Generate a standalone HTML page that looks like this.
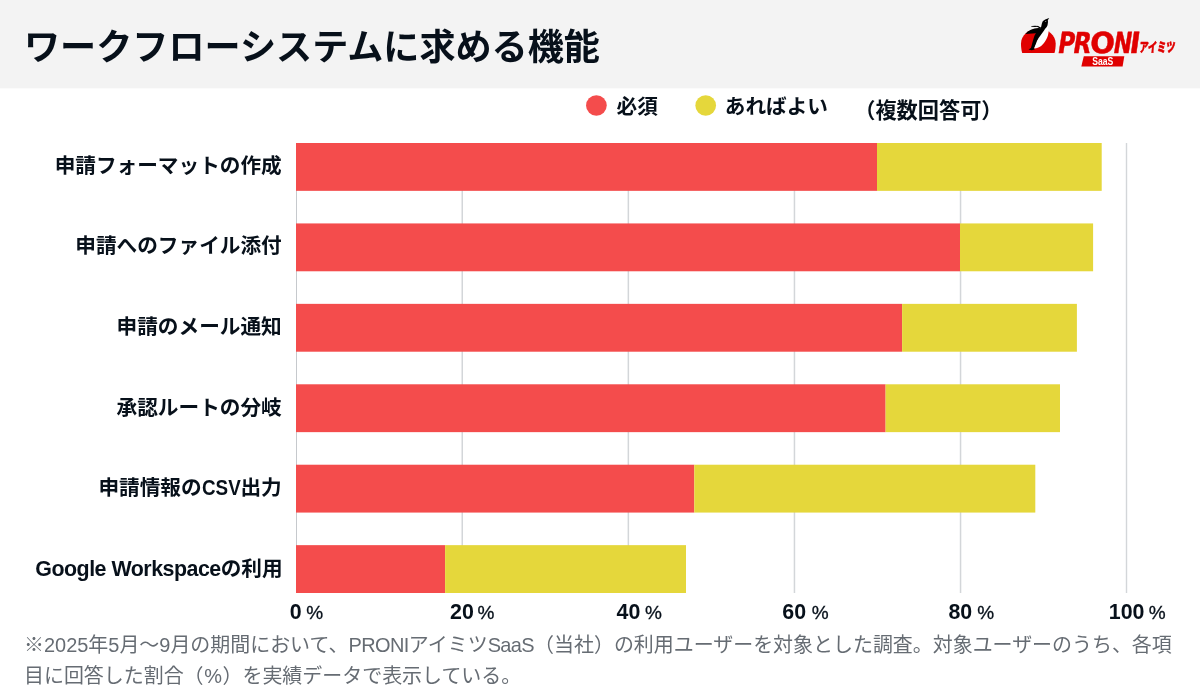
<!DOCTYPE html>
<html lang="ja">
<head>
<meta charset="utf-8">
<title>ワークフローシステムに求める機能</title>
<style>
html,body{margin:0;padding:0;}
body{width:1200px;height:700px;position:relative;overflow:hidden;background:#fff;
  font-family:"Liberation Sans","Noto Sans CJK JP",sans-serif;color:#07101a;}
.abs{position:absolute;white-space:nowrap;}
#header{position:absolute;left:0;top:0;width:1200px;height:88px;background:#f3f3f3;border-bottom:1px solid #fbfbfb;}
#title{left:24px;top:22.4px;font-size:36.12px;font-weight:700;line-height:52px;}
#shapes{position:absolute;left:0;top:0;width:1200px;height:700px;}
.lab{position:absolute;right:918.3px;font-size:20.65px;font-weight:700;line-height:30px;white-space:nowrap;text-align:right;}
.lab .en{font-size:21.4px;letter-spacing:-0.5px;}
.lab .csv{display:inline-block;font-size:21.4px;transform:scaleX(0.88);transform-origin:0 50%;margin-right:-5.2px;}
.leg{position:absolute;font-size:20.65px;font-weight:700;line-height:30px;white-space:nowrap;}
.ax{position:absolute;top:596.5px;font-size:21.4px;font-weight:700;line-height:30px;white-space:nowrap;}
.ax i{font-style:normal;font-size:19px;font-weight:400;margin-left:4px;-webkit-text-stroke:0.3px #07101a;}
#foot{position:absolute;left:24px;top:630.1px;width:1165px;font-size:19.97px;line-height:30.9px;color:#666c73;}
#foot .p{letter-spacing:-0.55px;}
#foot .s{letter-spacing:-0.6px;}
</style>
</head>
<body>
<div id="header"></div>
<div id="title" class="abs">ワークフローシステムに求める機能</div>

<svg id="shapes" width="1200" height="700" viewBox="0 0 1200 700">
  <!-- grid -->
  <g fill="#d3d6d9">
    <rect x="296" y="143" width="1" height="450" fill="#c6c9cd"/>
    <rect x="461.5" y="143" width="1.5" height="450"/>
    <rect x="627.6" y="143" width="1.5" height="450"/>
    <rect x="793.7" y="143" width="1.5" height="450"/>
    <rect x="959.8" y="143" width="1.5" height="450"/>
    <rect x="1125.8" y="143" width="1.4" height="450"/>
  </g>
  <!-- bars -->
  <rect x="296" y="143.00" width="581.0" height="47.85" fill="#f44c4c"/><rect x="877.0" y="143.00" width="224.7" height="47.85" fill="#e5d73b"/>
  <rect x="296" y="223.43" width="664.0" height="47.85" fill="#f44c4c"/><rect x="960.0" y="223.43" width="133.1" height="47.85" fill="#e5d73b"/>
  <rect x="296" y="303.86" width="606.1" height="47.85" fill="#f44c4c"/><rect x="902.1" y="303.86" width="174.8" height="47.85" fill="#e5d73b"/>
  <rect x="296" y="384.29" width="589.6" height="47.85" fill="#f44c4c"/><rect x="885.6" y="384.29" width="174.4" height="47.85" fill="#e5d73b"/>
  <rect x="296" y="464.72" width="398.3" height="47.85" fill="#f44c4c"/><rect x="694.3" y="464.72" width="341.0" height="47.85" fill="#e5d73b"/>
  <rect x="296" y="545.15" width="149.1" height="47.85" fill="#f44c4c"/><rect x="445.1" y="545.15" width="240.9" height="47.85" fill="#e5d73b"/>
  <!-- legend dots -->
  <circle cx="596.4" cy="105.5" r="10.35" fill="#f44c4c"/>
  <circle cx="705.7" cy="105.5" r="10.35" fill="#e5d73b"/>
</svg>


<!-- logo -->
<svg id="logo" width="1200" height="88" viewBox="0 0 1200 88" style="position:absolute;left:0;top:0;">
  <!-- penguin mark: drawn in 16.667x coords -->
  <g transform="translate(1018,14) scale(0.06)">
    <path d="M70 648 C55 600 50 545 50 492 C50 354 179 244 339 244 C499 244 628 354 628 492 C628 545 623 600 608 648 Z" fill="#e00000"/>
    <path d="M490 185 C504 230 513 270 509 305 C501 385 456 475 386 535 C342 568 296 580 262 575 C285 510 320 420 360 350 C390 300 420 260 445 235 C465 215 480 200 490 185 Z" fill="#ffffff"/>
    <path d="M122 332 C170 274 250 238 340 234 L378 236 C392 205 392 160 410 125 C430 98 470 85 520 66 L497 106 C503 130 498 160 492 187 C482 215 462 235 450 252 C430 290 392 335 343 400 C328 425 313 455 308 470 C293 510 278 545 268 568 L278 592 L230 605 L175 592 L215 565 C230 520 245 450 265 390 C275 355 290 335 300 322 L122 332 Z" fill="#000000"/>
    <ellipse cx="283" cy="205" rx="67" ry="11" fill="#000000"/>
    <path d="M320 197 L392 228 L372 246 L318 214 Z" fill="#000000"/>
    <ellipse cx="462" cy="126" rx="11" ry="6" fill="#ffffff"/>
  </g>
  <g font-family="'DejaVu Sans', sans-serif" font-weight="700" font-size="29" fill="#e00000" stroke="#e00000" stroke-width="0.5" stroke-linejoin="round">
    <text transform="translate(1056.7,52.7) skewX(-9) scale(0.79,1)">P</text>
    <text transform="translate(1072.0,52.7) skewX(-9) scale(0.80,1)">R</text>
    <text transform="translate(1089.8,52.7) skewX(-3) scale(1.0,1)">O</text>
    <text transform="translate(1112.2,52.7) skewX(-9) scale(0.755,1)">N</text>
    <text transform="translate(1128.7,52.7) skewX(-8) scale(0.93,1)">I</text>
  </g>
  <text transform="translate(1138.9,52.2) skewX(-5) scale(0.69,1)" font-family="'Liberation Sans','Noto Sans CJK JP',sans-serif" font-weight="900" font-size="13.2" fill="#e00000" stroke="#e00000" stroke-width="0.45">アイミツ</text>
  <path d="M1083.8 56.2 L1124.3 56.2 L1122.6 66.4 L1081.3 66.4 Z" fill="#e00000"/>
  <text transform="translate(1102.7,64.75) scale(0.88,1.2)" text-anchor="middle" font-family="'Liberation Sans',sans-serif" font-weight="700" font-size="9.8" fill="#ffffff">SaaS</text>
</svg>

<!-- legend -->
<div class="leg" style="left:616.5px;top:92.2px;">必須</div>
<div class="leg" style="left:724.8px;top:92px;">あればよい</div>
<div class="leg" style="left:854.2px;top:95.6px;font-size:21.2px;">（複数回答可）</div>

<!-- labels -->
<div class="lab" style="top:150.5px;">申請フォーマットの作成</div>
<div class="lab" style="top:231px;">申請へのファイル添付</div>
<div class="lab" style="top:311.5px;">申請のメール通知</div>
<div class="lab" style="top:392.5px;">承認ルートの分岐</div>
<div class="lab" style="top:472.5px;">申請情報の<span class="csv">CSV</span>出力</div>
<div class="lab" style="top:553.8px;right:917.4px;"><span class="en">Google Workspace</span>の利用</div>

<!-- axis -->
<div class="ax" style="left:289.7px;">0<i style="margin-left:4.6px">%</i></div>
<div class="ax" style="left:450px;">20<i style="margin-left:3.6px">%</i></div>
<div class="ax" style="left:616.5px;">40<i style="margin-left:4.8px">%</i></div>
<div class="ax" style="left:782.3px;">60<i style="margin-left:5.6px">%</i></div>
<div class="ax" style="left:948.4px;">80<i style="margin-left:5px">%</i></div>
<div class="ax" style="left:1108.8px;">100<i style="margin-left:4.2px">%</i></div>

<div id="foot">※2025年5月〜9月の期間において、<span class="p">PRONI</span>アイミツ<span class="s">SaaS</span>（当社）の利用ユーザーを対象とした調査。対象ユーザーのうち、各項目に回答した割合（<span style="padding:0 0.6px">%</span>）を実績データで表示している。</div>
</body>
</html>
